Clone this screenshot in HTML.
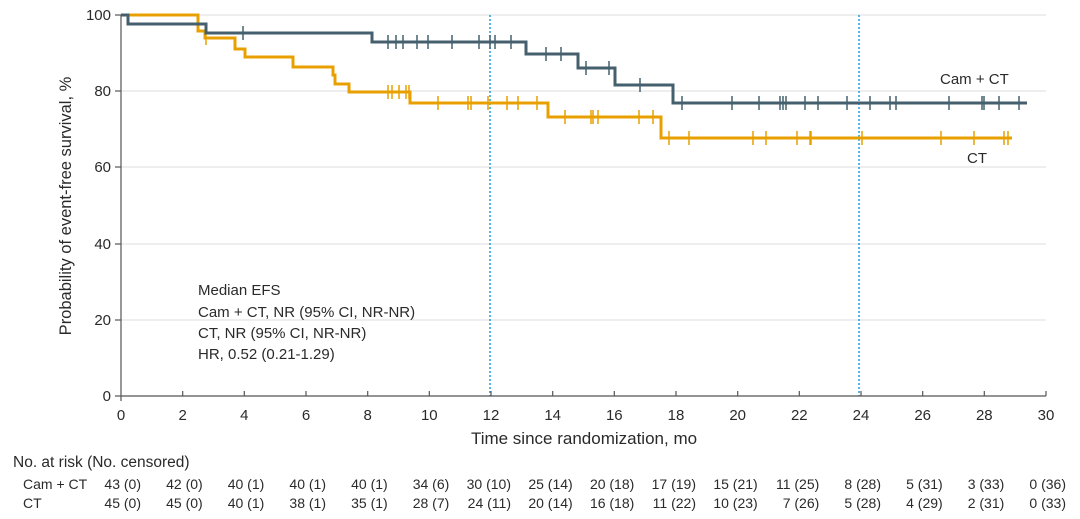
<!DOCTYPE html>
<html><head><meta charset="utf-8"><style>
body{margin:0;background:#fff;}
svg{display:block;font-family:"Liberation Sans",sans-serif;}
text{fill:#2a2a2a;font-size:14px;}
</style></head><body>
<svg width="1080" height="519" viewBox="0 0 1080 519" xmlns="http://www.w3.org/2000/svg">
<g stroke="#e3e3e3" stroke-width="1.2">
<line x1="121" y1="15" x2="1046" y2="15"/><line x1="121" y1="91" x2="1046" y2="91"/>
<line x1="121" y1="167" x2="1046" y2="167"/><line x1="121" y1="244" x2="1046" y2="244"/>
<line x1="121" y1="320" x2="1046" y2="320"/>
</g>
<g stroke="#1ca0d8" stroke-width="1.5" stroke-dasharray="2,2">
<line x1="490" y1="15" x2="490" y2="396"/><line x1="859" y1="15" x2="859" y2="396"/>
</g>
<g stroke="#555" stroke-width="1.2" fill="none">
<line x1="121" y1="15" x2="121" y2="396"/><line x1="121" y1="396" x2="1046" y2="396"/>
<line x1="115" y1="15" x2="121" y2="15"/><line x1="115" y1="91" x2="121" y2="91"/><line x1="115" y1="167" x2="121" y2="167"/><line x1="115" y1="244" x2="121" y2="244"/><line x1="115" y1="320" x2="121" y2="320"/><line x1="115" y1="396" x2="121" y2="396"/>
<path d="M121 396v5M182.7 396v-5M244.3 396v-5M306 396v-5M367.7 396v-5M429.3 396v-5M491 396v-5M552.7 396v-5M614.3 396v-5M676 396v-5M737.7 396v-5M799.3 396v-5M861 396v-5M922.7 396v-5M984.3 396v-5M1046 396v-5"/>
</g>
<g text-anchor="end" style="font-size:15px">
<text x="111" y="20" style="font-size:15px">100</text><text x="111" y="96" style="font-size:15px">80</text><text x="111" y="172" style="font-size:15px">60</text><text x="111" y="249" style="font-size:15px">40</text><text x="111" y="325" style="font-size:15px">20</text><text x="111" y="401" style="font-size:15px">0</text>
</g>
<g text-anchor="middle">
<text x="121" y="420" style="font-size:15px">0</text><text x="182.7" y="420" style="font-size:15px">2</text><text x="244.3" y="420" style="font-size:15px">4</text><text x="306" y="420" style="font-size:15px">6</text><text x="367.7" y="420" style="font-size:15px">8</text><text x="429.3" y="420" style="font-size:15px">10</text><text x="491" y="420" style="font-size:15px">12</text><text x="552.7" y="420" style="font-size:15px">14</text><text x="614.3" y="420" style="font-size:15px">16</text><text x="676" y="420" style="font-size:15px">18</text><text x="737.7" y="420" style="font-size:15px">20</text><text x="799.3" y="420" style="font-size:15px">22</text><text x="861" y="420" style="font-size:15px">24</text><text x="922.7" y="420" style="font-size:15px">26</text><text x="984.3" y="420" style="font-size:15px">28</text><text x="1046" y="420" style="font-size:15px">30</text>
<text x="584" y="444" style="font-size:17px">Time since randomization, mo</text>
<text transform="translate(71,206) rotate(-90)" style="font-size:16.5px">Probability of event-free survival, %</text>
</g>
<path fill="none" stroke="#e8a000" stroke-width="3" d="M121 15H198V31H205V38H235V49H245V57H293V67H333V75H335V84H349V92H410V103H548V117H661V138H1012"/>
<path fill="none" stroke="#e8a000" stroke-width="1.5" d="M206 31v14M388 85v14M392 85v14M399 85v14M406 85v14M409 85v14M438 96v14M468 96v14M471 96v14M488 96v14M507 96v14M518 96v14M537 96v14M565 110v14M591 110v14M593 110v14M598 110v14M639 110v14M653 110v14M669 131v14M689 131v14M753 131v14M766 131v14M797 131v14M810 131v14M811 131v14M862 131v14M941 131v14M974 131v14M1004 131v14M1008 131v14"/>
<path fill="none" stroke="#44606e" stroke-width="3" d="M121 15H128V24H206V33H372V42H526V54H578V68H615V85H673V103H1027"/>
<path fill="none" stroke="#44606e" stroke-width="1.5" d="M243 26v14M388 35v14M396 35v14M403 35v14M417 35v14M428 35v14M452 35v14M479 35v14M490 35v14M495 35v14M511 35v14M546 47v14M561 47v14M586 61v14M609 61v14M640 78v14M682 96v14M732 96v14M759 96v14M780 96v14M783 96v14M786 96v14M805 96v14M818 96v14M847 96v14M870 96v14M890 96v14M896 96v14M949 96v14M982 96v14M984 96v14M999 96v14M1019 96v14"/>
<text x="940" y="84" style="font-size:15px">Cam + CT</text>
<text x="967" y="163" style="font-size:15px">CT</text>
<g style="font-size:15px">
<text x="198" y="295" style="font-size:15px">Median EFS</text>
<text x="198" y="317" style="font-size:15px">Cam + CT, NR (95% CI, NR-NR)</text>
<text x="198" y="338" style="font-size:15px">CT, NR (95% CI, NR-NR)</text>
<text x="198" y="359" style="font-size:15px">HR, 0.52 (0.21-1.29)</text>
</g>
<text x="13" y="467" style="font-size:15.5px">No. at risk (No. censored)</text>
<text x="23" y="489">Cam + CT</text>
<text x="23" y="508">CT</text>
<g text-anchor="end">
<text x="141" y="489">43 (0)</text><text x="202.7" y="489">42 (0)</text><text x="264.3" y="489">40 (1)</text><text x="326" y="489">40 (1)</text><text x="387.7" y="489">40 (1)</text><text x="449.3" y="489">34 (6)</text><text x="511" y="489">30 (10)</text><text x="572.7" y="489">25 (14)</text><text x="634.3" y="489">20 (18)</text><text x="696" y="489">17 (19)</text><text x="757.7" y="489">15 (21)</text><text x="819.3" y="489">11 (25)</text><text x="881" y="489">8 (28)</text><text x="942.7" y="489">5 (31)</text><text x="1004.3" y="489">3 (33)</text><text x="1066" y="489">0 (36)</text>
<text x="141" y="508">45 (0)</text><text x="202.7" y="508">45 (0)</text><text x="264.3" y="508">40 (1)</text><text x="326" y="508">38 (1)</text><text x="387.7" y="508">35 (1)</text><text x="449.3" y="508">28 (7)</text><text x="511" y="508">24 (11)</text><text x="572.7" y="508">20 (14)</text><text x="634.3" y="508">16 (18)</text><text x="696" y="508">11 (22)</text><text x="757.7" y="508">10 (23)</text><text x="819.3" y="508">7 (26)</text><text x="881" y="508">5 (28)</text><text x="942.7" y="508">4 (29)</text><text x="1004.3" y="508">2 (31)</text><text x="1066" y="508">0 (33)</text>
</g>
</svg>
</body></html>
